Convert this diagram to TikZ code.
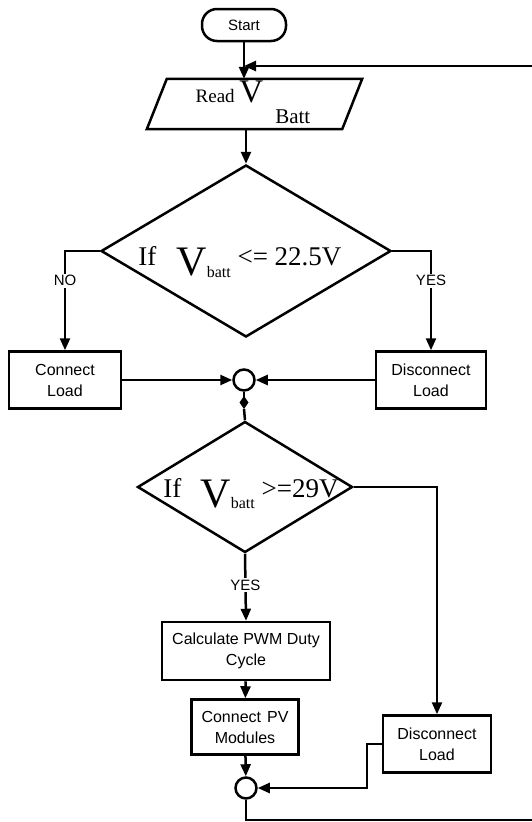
\documentclass[tikz,border=0pt]{standalone}
\usepackage{fontspec}
\setmainfont{Liberation Sans}
\newfontfamily\condfont{Liberation Serif}
\usetikzlibrary{arrows.meta,shapes.geometric}
\tikzset{
  term/.style     ={rectangle,draw,line width=2.5pt,rounded corners=15pt,minimum width=84pt,minimum height=32pt,font=\fontsize{15}{15}\selectfont},
  iobox/.style    ={rectangle,minimum width=195pt,minimum height=50pt,inner sep=0pt},
  ioline/.style   ={line width=2.5pt,line join=miter},
  procbox/.style  ={rectangle,draw,line width=2.5pt,align=center,inner sep=0pt,font=\fontsize{16}{21}\selectfont},
  decision/.style ={diamond,draw,line width=2.5pt,inner sep=0pt},
  junction/.style ={circle,draw,line width=2.5pt,minimum size=21pt,inner sep=0pt},
  condtext/.style ={anchor=base,inner sep=0pt,font=\condfont},
  lbl/.style      ={fill=white,inner sep=1.5pt,font=\fontsize{15}{15}\selectfont},
  flow/.style     ={line width=2.5pt,-{Triangle[length=12pt,width=10pt]}},
  plain/.style    ={line width=2.5pt},
}

\begin{document}
\begin{tikzpicture}[x=1pt,y=-1pt]
  \useasboundingbox (0,0) rectangle (531,822);
  \node[term] (start) at (244,25){Start};
  \node[iobox] (read) at (254.5,104){};
  \draw[ioline] ([xshift=-10pt]read.south west) -- ([xshift=10pt]read.north west)
     -- ([xshift=10pt]read.north east) -- ([xshift=-10pt]read.south east) -- cycle;
  \node[condtext] (readtxt) at (253,102){\fontsize{19}{19}\selectfont Read {\fontsize{33}{33}\selectfont V}\hspace{12pt}\raisebox{-21pt}{\fontsize{21}{21}\selectfont Batt}};
  \node[decision,minimum width=290pt,minimum height=172pt] (d1) at (246,251){};
  \node[condtext] (d1txt) at (240,265){\fontsize{27}{27}\selectfont If\hspace{20pt}\raisebox{-10pt}{\fontsize{42}{42}\selectfont V}\raisebox{-12pt}{\fontsize{16}{16}\selectfont batt} <= 22.5V};
  \node[procbox,minimum width=112pt,minimum height=57pt] (cload) at (65,380){Connect\\Load};
  \node[procbox,minimum width=110pt,minimum height=57pt] (dload) at (431,380){Disconnect\\Load};
  \node[junction] (j1) at (244,380){};
  \node[decision,minimum width=215pt,minimum height=131pt] (d2) at (245,487){};
  \node[condtext] (d2txt) at (251,497){\fontsize{27}{27}\selectfont If\hspace{19pt}\raisebox{-10pt}{\fontsize{42}{42}\selectfont V}\raisebox{-11pt}{\fontsize{16}{16}\selectfont batt} >=29V};
  \node[procbox,minimum width=168pt,minimum height=58pt] (pwm) at (246,651){Calculate PWM Duty\\Cycle};
  \node[procbox,minimum width=107pt,minimum height=55pt] (pv) at (245,727){Connect\hspace{6pt}PV\\Modules};
  \node[procbox,minimum width=108pt,minimum height=57pt] (dload2) at (437,744){Disconnect\\Load};
  \node[junction] (j2) at (246,788){};
  \coordinate (fb) at (244,66);
  \coordinate (tip1) at (244,409);
  \coordinate (back) at (536,820); % loop runs off the page on the right

  \draw[flow] (start) -- (read.north -| start);
  \draw[flow] (read.south -| d1.north) -- (d1.north);
  \draw[flow] (d1.west) -| node[lbl,pos=0.65]{NO} (cload.north);
  \draw[flow] (d1.east) -| node[lbl,pos=0.65]{YES} (dload.north);
  \draw[flow] (cload) -- (j1);
  \draw[flow] (dload) -- (j1);
  \draw[plain,-{Diamond[length=13pt,width=9pt]}] (j1) -- (tip1);
  \draw[plain] (tip1) -- (d2.north);
  \draw[flow] (d2.south) -- node[lbl,pos=0.47]{YES} (pwm.north);
  \draw[flow] (pwm) -- (pv);
  \draw[flow] (pv) -- (j2);
  \draw[flow] (d2.east) -| (dload2.north);
  \draw[flow] (dload2.west) -- ++(-15,0) |- (j2.east);
  \draw[flow] (j2.south) |- (back) |- (fb);
\end{tikzpicture}
\end{document}
